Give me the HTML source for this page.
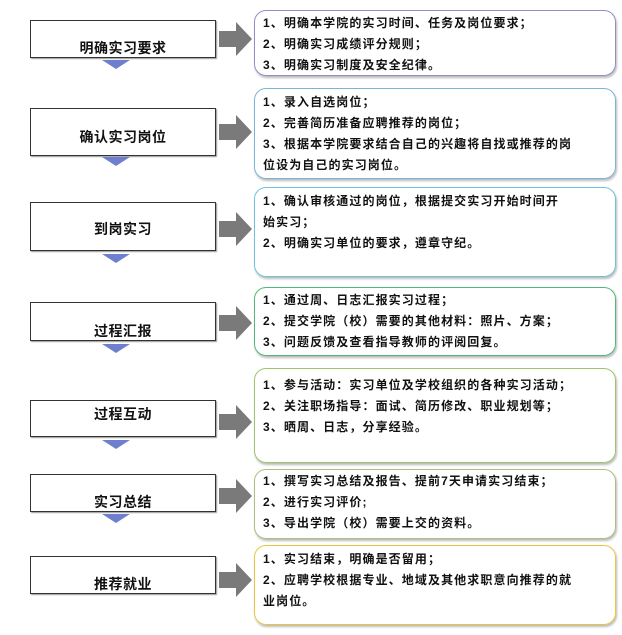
<!DOCTYPE html>
<html><head><meta charset="utf-8"><style>
body{margin:0;width:622px;height:635px;background:#fff;position:relative;overflow:hidden;font-family:"Liberation Sans","Noto Sans CJK SC","WenQuanYi Zen Hei",sans-serif;}
.l{position:absolute;left:30px;width:184px;border:1px solid #333;background:#fff;box-shadow:1px 1px 1px #999;}
.l span{position:absolute;left:0;right:0;text-align:center;font-size:14px;font-weight:bold;color:#111;letter-spacing:0.5px;}
.r{position:absolute;left:254px;width:362px;border:1.5px solid;border-radius:12px;box-sizing:border-box;padding:4px 8px;font-size:12px;letter-spacing:1.1px;white-space:nowrap;font-weight:bold;line-height:21px;color:#111;box-shadow:1px 2px 2px #bbb;}
.t{position:absolute;left:102px;width:0;height:0;border-left:14px solid transparent;border-right:14px solid transparent;border-top:9px solid #6f7fcf;}
svg.a{position:absolute;left:219px;}
</style></head><body>
<div class="l" style="top:20px;height:36px"><span style="top:17px">明确实习要求</span></div>
<div class="t" style="top:60px"></div>
<div class="l" style="top:108px;height:46px"><span style="top:18px">确认实习岗位</span></div>
<div class="t" style="top:157px"></div>
<div class="l" style="top:202px;height:47px"><span style="top:16px">到岗实习</span></div>
<div class="t" style="top:254px"></div>
<div class="l" style="top:302px;height:37px"><span style="top:18px">过程汇报</span></div>
<div class="t" style="top:344px"></div>
<div class="l" style="top:400px;height:35px"><span style="top:3px">过程互动</span></div>
<div class="t" style="top:440px"></div>
<div class="l" style="top:474px;height:36px"><span style="top:17px">实习总结</span></div>
<div class="t" style="top:514px"></div>
<div class="l" style="top:556px;height:36px"><span style="top:17px">推荐就业</span></div>

<svg class="a" style="top:22px" width="34" height="34"><polygon points="0,9 17,9 17,0 33,17 17,34 17,25 0,25" fill="#7a7a7a"/></svg>
<svg class="a" style="top:115px" width="34" height="34"><polygon points="0,9 17,9 17,0 33,17 17,34 17,25 0,25" fill="#7a7a7a"/></svg>
<svg class="a" style="top:212px" width="34" height="34"><polygon points="0,9 17,9 17,0 33,17 17,34 17,25 0,25" fill="#7a7a7a"/></svg>
<svg class="a" style="top:306px" width="34" height="34"><polygon points="0,9 17,9 17,0 33,17 17,34 17,25 0,25" fill="#7a7a7a"/></svg>
<svg class="a" style="top:405px" width="34" height="34"><polygon points="0,9 17,9 17,0 33,17 17,34 17,25 0,25" fill="#7a7a7a"/></svg>
<svg class="a" style="top:479px" width="34" height="34"><polygon points="0,9 17,9 17,0 33,17 17,34 17,25 0,25" fill="#7a7a7a"/></svg>
<svg class="a" style="top:563px" width="34" height="34"><polygon points="0,9 17,9 17,0 33,17 17,34 17,25 0,25" fill="#7a7a7a"/></svg>

<div class="r" style="top:10px;height:66px;border-color:#9090c0;padding-top:2px">1、明确本学院的实习时间、任务及岗位要求；<br>2、明确实习成绩评分规则；<br>3、明确实习制度及安全纪律。</div>
<div class="r" style="top:88px;height:91px;border-color:#7ab4d8;padding-top:3px">1、录入自选岗位；<br>2、完善简历准备应聘推荐的岗位；<br>3、根据本学院要求结合自己的兴趣将自找或推荐的岗<br>位设为自己的实习岗位。</div>
<div class="r" style="top:187px;height:90px;border-color:#6cc4d8;padding-top:3px">1、确认审核通过的岗位，根据提交实习开始时间开<br>始实习；<br>2、明确实习单位的要求，遵章守纪。</div>
<div class="r" style="top:287px;height:69px;border-color:#50b878;padding-top:2px">1、通过周、日志汇报实习过程；<br>2、提交学院（校）需要的其他材料：照片、方案；<br>3、问题反馈及查看指导教师的评阅回复。</div>
<div class="r" style="top:368px;height:95px;border-color:#9cc468;padding-top:6px">1、参与活动：实习单位及学校组织的各种实习活动；<br>2、关注职场指导：面试、简历修改、职业规划等；<br>3、晒周、日志，分享经验。</div>
<div class="r" style="top:469px;height:70px;border-color:#a8c080;padding-top:1px">1、撰写实习总结及报告、提前7天申请实习结束；<br>2、进行实习评价;<br>3、导出学院（校）需要上交的资料。</div>
<div class="r" style="top:545px;height:80px;border-color:#e8c640;padding-top:3px">1、实习结束，明确是否留用；<br>2、应聘学校根据专业、地域及其他求职意向推荐的就<br>业岗位。</div>
</body></html>
